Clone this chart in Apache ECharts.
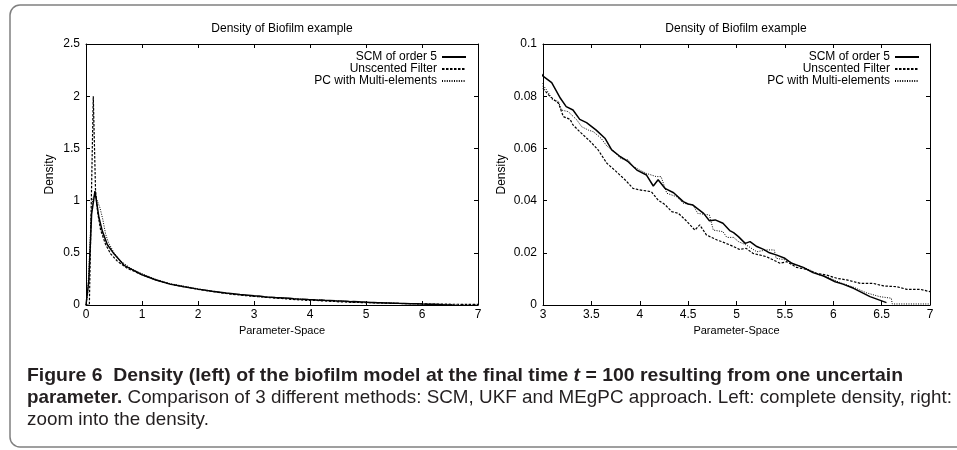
<!DOCTYPE html>
<html>
<head>
<meta charset="utf-8">
<script src="https://cdn.jsdelivr.net/npm/echarts@6/dist/echarts.min.js"></script>
<style>
  html, body { margin: 0; padding: 0; background: #fff; }
  #main { width: 957px; height: 450px; }
</style>
</head>
<body>
<div id="main"></div>
<script>
// values
var seriesNames = ['SCM of order 5', 'Unscented Filter', 'PC with Multi-elements'];

var scmX = [0, 0.05, 0.1, 0.16, 0.23, 0.29, 0.38, 0.5, 0.68, 0.86, 1.0, 1.25, 1.5, 1.75, 2.0, 2.25, 2.5, 2.75,
  3.0, 3.09, 3.18, 3.24, 3.31, 3.38, 3.45, 3.55, 3.64, 3.71, 3.8, 3.88, 3.97, 4.07, 4.14, 4.19, 4.26, 4.35,
  4.45, 4.5, 4.55, 4.66, 4.72, 4.78, 4.86, 4.93, 4.97, 5.02, 5.09, 5.14, 5.21, 5.28, 5.34, 5.41, 5.5, 5.57,
  5.69, 5.79, 5.9, 6.02, 6.1, 6.21, 6.38, 6.55];
var scmY = [0, 0.23, 0.87, 1.09, 0.84, 0.71, 0.58, 0.49, 0.38, 0.33, 0.29, 0.24, 0.2, 0.175, 0.152, 0.132, 0.114, 0.1,
  0.0877, 0.0852, 0.0792, 0.076, 0.0747, 0.0711, 0.0699, 0.067, 0.0639, 0.0594, 0.0568, 0.0549, 0.0517, 0.0498, 0.0456, 0.048, 0.0447, 0.043,
  0.0396, 0.0387, 0.0383, 0.0351, 0.0323, 0.0326, 0.0313, 0.0285, 0.0277, 0.0262, 0.0236, 0.0243, 0.0224, 0.0213, 0.02, 0.0192, 0.0179, 0.016,
  0.0144, 0.0124, 0.0111, 0.0089, 0.008, 0.0064, 0.0032, 0.0009];

var ukfX = [0, 0.06, 0.13, 0.17, 0.21, 0.26, 0.35, 0.44, 0.56, 0.74, 1.0, 1.25, 1.5, 2.0, 2.5, 2.75,
  3.0, 3.07, 3.16, 3.21, 3.28, 3.31, 3.38, 3.49, 3.57, 3.66, 3.74, 3.85, 3.93, 4.0, 4.12, 4.19, 4.26, 4.33,
  4.4, 4.48, 4.57, 4.62, 4.69, 4.8, 4.86, 4.97, 5.03, 5.1, 5.17, 5.31, 5.45, 5.52, 5.62, 5.72, 5.83, 5.93,
  6.04, 6.14, 6.28, 6.41, 6.52, 6.66, 6.76, 6.9, 7.0];
var ukfY = [0, 0, 2.0, 1.1, 0.88, 0.72, 0.58, 0.49, 0.42, 0.35, 0.29, 0.24, 0.2, 0.15, 0.11, 0.095,
  0.083, 0.08, 0.0773, 0.0722, 0.0711, 0.069, 0.0664, 0.0626, 0.0594, 0.0543, 0.0517, 0.0479, 0.0447, 0.0441, 0.0434, 0.0402, 0.0385, 0.0358,
  0.0351, 0.0323, 0.0287, 0.0307, 0.0268, 0.0249, 0.0241, 0.0224, 0.0213, 0.0217, 0.0198, 0.0185, 0.016, 0.0166, 0.0144, 0.0137, 0.0121, 0.0115,
  0.0102, 0.0096, 0.0083, 0.0083, 0.0073, 0.007, 0.006, 0.006, 0.0051];

var pcX = [0, 0.03, 0.06, 0.09, 0.12, 0.16, 0.2, 0.25, 0.3, 0.35, 0.4, 0.5, 0.6, 0.8, 1.0, 1.25, 1.5, 2.0, 2.5, 2.75,
  3.0, 3.05, 3.1, 3.16, 3.19, 3.26, 3.35, 3.4, 3.47, 3.52, 3.6, 3.66, 3.74, 3.8, 3.88, 3.93, 4.0, 4.07, 4.17, 4.22,
  4.28, 4.38, 4.45, 4.55, 4.6, 4.72, 4.76, 4.86, 4.9, 4.97, 5.02, 5.1, 5.21, 5.31, 5.39, 5.41, 5.52, 5.62, 5.76,
  5.86, 5.97, 6.07, 6.21, 6.34, 6.48, 6.6, 6.61, 7.0];
var pcY = [0, 0.1, 0.45, 0.85, 1.02, 1.06, 1.0, 0.93, 0.82, 0.68, 0.6, 0.5, 0.43, 0.35, 0.3, 0.245, 0.205, 0.155, 0.113, 0.098,
  0.0843, 0.0817, 0.0785, 0.078, 0.0747, 0.0741, 0.0709, 0.0683, 0.067, 0.0664, 0.0639, 0.0609, 0.0587, 0.0562, 0.0556, 0.0532, 0.0517, 0.0504, 0.0492, 0.0492,
  0.0428, 0.0415, 0.039, 0.0383, 0.0351, 0.0345, 0.0287, 0.0281, 0.0259, 0.0259, 0.0243, 0.023, 0.0204, 0.0211, 0.0211, 0.0179, 0.0172, 0.0153, 0.0134,
  0.0115, 0.0102, 0.0086, 0.0068, 0.0047, 0.0032, 0.0026, 0.0004, 0.0004];

// axis ranges: [min, max, interval]
var leftX = [0, 7, 1], leftY = [0, 2.5, 0.5];
var rightX = [3, 7, 0.5], rightY = [0, 0.1, 0.02];

var FONT = '"Liberation Sans", Arial, Helvetica, sans-serif';

function pairs(xs, ys) {
  return xs.map(function (x, i) { return [x, ys[i]]; });
}

var lineStyles = [
  { color: '#000', width: 1.5, type: 'solid' },
  { color: '#000', width: 1.2, type: [2.5, 1.5] },
  { color: '#000', width: 1, type: [1, 1.4] }
];
var seriesData = [pairs(scmX, scmY), pairs(ukfX, ukfY), pairs(pcX, pcY)];

function xAxisOf(grid, range, pos, name) {
  return {
    type: 'value', gridIndex: grid, position: pos,
    min: range[0], max: range[1], interval: range[2],
    axisLine: { show: true, onZero: false, lineStyle: { color: '#000', width: 1 } },
    axisTick: { show: true, inside: true, length: 4, lineStyle: { color: '#000' } },
    axisLabel: { show: pos === 'bottom', color: '#000', fontSize: 12, fontFamily: FONT, margin: 4 },
    splitLine: { show: false },
    name: name || '', nameLocation: 'middle', nameGap: 13,
    nameTextStyle: { color: '#000', fontSize: 11, fontFamily: FONT }
  };
}
function yAxisOf(grid, range, pos, name, gap) {
  return {
    type: 'value', gridIndex: grid, position: pos,
    min: range[0], max: range[1], interval: range[2],
    axisLine: { show: true, onZero: false, lineStyle: { color: '#000', width: 1 } },
    axisTick: { show: true, inside: true, length: 4, lineStyle: { color: '#000' } },
    axisLabel: { show: pos === 'left', color: '#000', fontSize: 12, fontFamily: FONT, margin: 6 },
    splitLine: { show: false },
    name: name || '', nameLocation: 'middle', nameGap: gap || 0, nameRotate: 90,
    nameTextStyle: { color: '#000', fontSize: 12, fontFamily: FONT }
  };
}

var series = [];
[0, 1].forEach(function (g) {
  seriesNames.forEach(function (n, i) {
    series.push({
      name: n, type: 'line', xAxisIndex: g * 2, yAxisIndex: g * 2,
      data: seriesData[i], symbol: 'none', clip: true,
      lineStyle: lineStyles[i], itemStyle: { color: '#000' }
    });
  });
});

function legendAt(right) {
  return {
    data: seriesNames, orient: 'vertical', align: 'right', right: right, top: 51,
    padding: 0, itemWidth: 24, itemHeight: 11, itemGap: 0, selectedMode: false,
    itemStyle: { color: 'rgba(0,0,0,0)', borderWidth: 0 },
    textStyle: { color: '#000', fontSize: 12, fontFamily: FONT, lineHeight: 11 }
  };
}
function titleAt(x) {
  return {
    text: 'Density of Biofilm example', left: x, top: 23, textAlign: 'center', padding: 0,
    textStyle: { color: '#000', fontSize: 12, fontWeight: 'normal', fontFamily: FONT }
  };
}

// caption: squeeze each line to the width it has in the figure
var capSize = 19;
var cap1 = ['Figure 6  Density (left) of the biofilm model at the final time ', 't', ' = 100 resulting from one uncertain'];
var cap2 = ['parameter.', ' Comparison of 3 different methods: SCM, UKF and MEgPC approach. Left: complete density, right:'];
var cap3 = 'zoom into the density.';
var ctx = document.createElement('canvas').getContext('2d');
function measure(font, s) { ctx.font = font + ' ' + capSize + 'px ' + FONT; return ctx.measureText(s).width; }
var w1 = measure('bold', cap1[0]) + measure('italic bold', cap1[1]) + measure('bold', cap1[2]);
var w2 = measure('bold', cap2[0]) + measure('normal', cap2[1]);
var sx1 = 876 / w1, sx2 = 925 / w2;

var capRich = {
  b: { fontWeight: 'bold', fontSize: capSize, fontFamily: FONT, fill: '#231f20' },
  bi: { fontWeight: 'bold', fontStyle: 'italic', fontSize: capSize, fontFamily: FONT, fill: '#231f20' },
  n: { fontSize: capSize, fontFamily: FONT, fill: '#231f20' }
};

var chart = echarts.init(document.getElementById('main'));
chart.setOption({
  animation: false,
  backgroundColor: '#fff',
  title: [titleAt(282), titleAt(736)],
  legend: [legendAt(490), legendAt(37)],
  grid: [
    { left: 86, top: 44, width: 392, height: 261 },
    { left: 543, top: 44, width: 387, height: 261 }
  ],
  xAxis: [
    xAxisOf(0, leftX, 'bottom', 'Parameter-Space'), xAxisOf(0, leftX, 'top'),
    xAxisOf(1, rightX, 'bottom', 'Parameter-Space'), xAxisOf(1, rightX, 'top')
  ],
  yAxis: [
    yAxisOf(0, leftY, 'left', 'Density', 30), yAxisOf(0, leftY, 'right'),
    yAxisOf(1, rightY, 'left', 'Density', 35), yAxisOf(1, rightY, 'right')
  ],
  series: series,
  graphic: [
    {
      type: 'rect', silent: true,
      shape: { x: 10, y: 5, width: 1000, height: 442, r: 10 },
      style: { fill: 'none', stroke: '#808080', lineWidth: 1.5 }
    },
    {
      type: 'text', x: 27, y: 376, scaleX: sx1, silent: true,
      style: {
        text: '{b|' + cap1[0] + '}{bi|' + cap1[1] + '}{b|' + cap1[2] + '}',
        verticalAlign: 'middle', rich: capRich
      }
    },
    {
      type: 'text', x: 27, y: 398, scaleX: sx2, silent: true,
      style: {
        text: '{b|' + cap2[0] + '}{n|' + cap2[1] + '}',
        verticalAlign: 'middle', rich: capRich
      }
    },
    {
      type: 'text', x: 27, y: 420, scaleX: sx2, silent: true,
      style: { text: '{n|' + cap3 + '}', verticalAlign: 'middle', rich: capRich }
    }
  ]
});
</script>
</body>
</html>
